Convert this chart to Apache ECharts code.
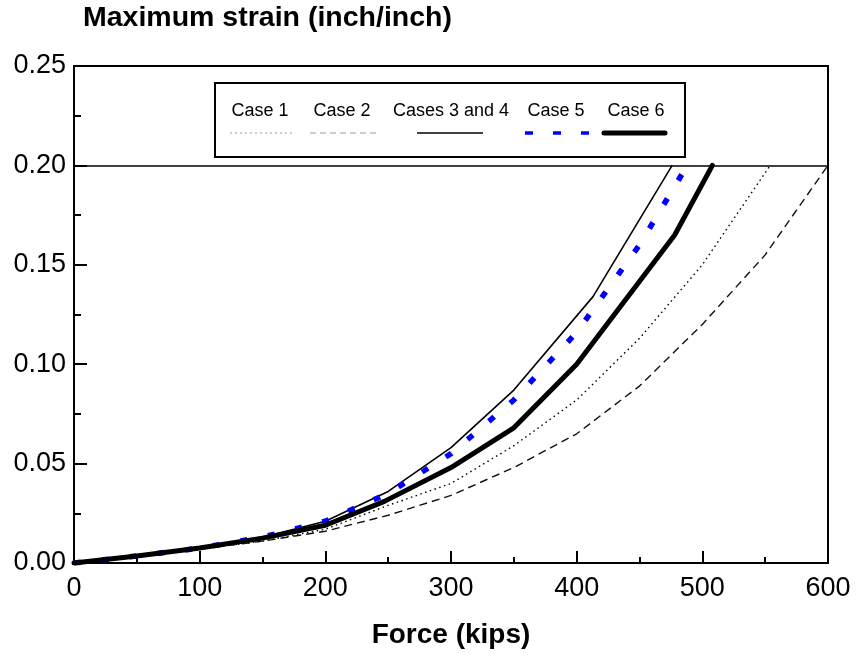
<!DOCTYPE html>
<html>
<head>
<meta charset="utf-8">
<script src="https://cdn.jsdelivr.net/npm/echarts@6/dist/echarts.min.js"></script>
<style>
html,body{margin:0;padding:0;background:#fff;}
#chart{width:857px;height:657px;}
</style>
</head>
<body>
<div id="chart"></div>
<script>
// ---- Data ----
const legendNames = ['Case 1', 'Case 2', 'Cases 3 and 4', 'Case 5', 'Case 6'];

const case1Force  = [0, 50, 100, 150, 200, 250, 300, 350, 400, 450, 500, 554];
const case1Strain = [0, 0.003, 0.007, 0.011, 0.017, 0.029, 0.040, 0.059, 0.082, 0.113, 0.150, 0.200];

const case2Force  = [0, 50, 100, 150, 200, 250, 300, 350, 400, 450, 500, 550, 600];
const case2Strain = [0, 0.003, 0.007, 0.011, 0.016, 0.024, 0.034, 0.048, 0.065, 0.089, 0.120, 0.155, 0.200];

const case34Force  = [0, 50, 100, 150, 200, 250, 300, 350, 413, 476];
const case34Strain = [0, 0.0035, 0.0075, 0.013, 0.021, 0.036, 0.058, 0.087, 0.134, 0.200];

const case5Force  = [0, 50, 100, 150, 200, 250, 300, 350, 400, 450, 488];
const case5Strain = [0, 0.0035, 0.0075, 0.013, 0.021, 0.035, 0.055, 0.082, 0.116, 0.160, 0.200];

const case6Force  = [0, 50, 100, 150, 200, 247, 300, 350, 400, 430, 478, 508];
const case6Strain = [0, 0.0035, 0.0075, 0.0125, 0.019, 0.031, 0.048, 0.068, 0.100, 0.125, 0.165, 0.200];

const limitStrain = 0.20;

const xTicks = [0, 100, 200, 300, 400, 500, 600];
const yTicks = [0.00, 0.05, 0.10, 0.15, 0.20, 0.25];

function pairs(xs, ys) { return xs.map((x, i) => [x, ys[i]]); }

const FONT = '"Liberation Sans", Arial, sans-serif';

const chart = echarts.init(document.getElementById('chart'), null, {renderer: 'canvas'});

const legendItems = [
  {name: legendNames[0], cx: 260, x1: 230, x2: 293, stroke: '#9a9a9a', w: 1, dash: [2, 3], cap: 'butt'},
  {name: legendNames[1], cx: 342, x1: 310, x2: 377, stroke: '#9a9a9a', w: 1, dash: [6, 4], cap: 'butt'},
  {name: legendNames[2], cx: 451, x1: 417, x2: 483, stroke: '#000', w: 1.6, dash: null, cap: 'butt'},
  {name: legendNames[3], cx: 556, x1: 525, x2: 590, stroke: '#0000ff', w: 3.5, dash: [8, 20], cap: 'butt'},
  {name: legendNames[4], cx: 636, x1: 604, x2: 665, stroke: '#000', w: 5, dash: null, cap: 'round'}
];

const graphics = [{
  type: 'rect', z: 100,
  shape: {x: 215, y: 83, width: 470, height: 74},
  style: {fill: '#fff', stroke: '#000', lineWidth: 2}
}];
legendItems.forEach(it => {
  graphics.push({
    type: 'text', z: 101, x: it.cx, y: 111,
    style: {text: it.name, fontSize: 18, fontFamily: FONT, fill: '#000', align: 'center', verticalAlign: 'middle'}
  });
  const st = {stroke: it.stroke, lineWidth: it.w, lineCap: it.cap};
  if (it.dash) st.lineDash = it.dash;
  graphics.push({
    type: 'line', z: 101,
    shape: {x1: it.x1, y1: 133, x2: it.x2, y2: 133},
    style: st
  });
});

const option = {
  animation: false,
  backgroundColor: '#fff',
  title: {
    text: 'Maximum strain (inch/inch)',
    left: 83, top: 4, padding: 0,
    textStyle: {fontFamily: FONT, fontWeight: 'bold', fontSize: 28.5, color: '#000'}
  },
  grid: {
    left: 74, right: 29, top: 66, bottom: 94,
    show: true, borderColor: '#000', borderWidth: 2, backgroundColor: 'transparent'
  },
  xAxis: {
    type: 'value',
    min: xTicks[0], max: xTicks[xTicks.length - 1], interval: 100,
    name: 'Force (kips)', nameLocation: 'middle', nameGap: 58,
    nameTextStyle: {fontFamily: FONT, fontWeight: 'bold', fontSize: 28, color: '#000'},
    axisLine: {show: true, onZero: false, lineStyle: {color: '#000', width: 2}},
    axisTick: {show: true, inside: true, length: 12, lineStyle: {color: '#000', width: 2}},
    minorTick: {show: true, splitNumber: 2, length: 6, lineStyle: {color: '#000', width: 2}},
    axisLabel: {fontFamily: FONT, fontSize: 27, color: '#000', margin: 12},
    splitLine: {show: false}
  },
  yAxis: {
    type: 'value',
    min: yTicks[0], max: yTicks[yTicks.length - 1], interval: 0.05,
    axisLine: {show: true, onZero: false, lineStyle: {color: '#000', width: 2}},
    axisTick: {show: true, inside: true, length: 13, lineStyle: {color: '#000', width: 2}},
    minorTick: {show: true, splitNumber: 2, length: 7, lineStyle: {color: '#000', width: 2}},
    axisLabel: {fontFamily: FONT, fontSize: 27, color: '#000', margin: 8,
      formatter: v => v.toFixed(2)},
    splitLine: {show: false}
  },
  graphic: graphics,
  series: [
    {
      name: legendNames[0], type: 'line', showSymbol: false, symbol: 'none',
      data: pairs(case1Force, case1Strain),
      lineStyle: {color: '#000', width: 1.4, type: [1.5, 3.5]},
      z: 3
    },
    {
      name: legendNames[1], type: 'line', showSymbol: false, symbol: 'none',
      data: pairs(case2Force, case2Strain),
      lineStyle: {color: '#111', width: 1.4, type: [8, 5]},
      z: 3
    },
    {
      name: legendNames[2], type: 'line', showSymbol: false, symbol: 'none',
      data: pairs(case34Force, case34Strain),
      lineStyle: {color: '#000', width: 1.6},
      z: 3,
      markLine: {
        silent: true, symbol: ['none', 'none'], label: {show: false},
        lineStyle: {color: '#000', width: 1.5, type: 'solid'},
        data: [{yAxis: limitStrain}]
      }
    },
    {
      name: legendNames[3], type: 'line', showSymbol: false, symbol: 'none',
      data: pairs(case5Force, case5Strain),
      lineStyle: {color: '#0000ff', width: 5.5, type: [7, 21]},
      z: 4
    },
    {
      name: legendNames[4], type: 'line', showSymbol: false, symbol: 'none',
      data: pairs(case6Force, case6Strain),
      lineStyle: {color: '#000', width: 5, cap: 'round', join: 'round'},
      z: 4
    }
  ]
};
chart.setOption(option);
</script>
</body>
</html>
